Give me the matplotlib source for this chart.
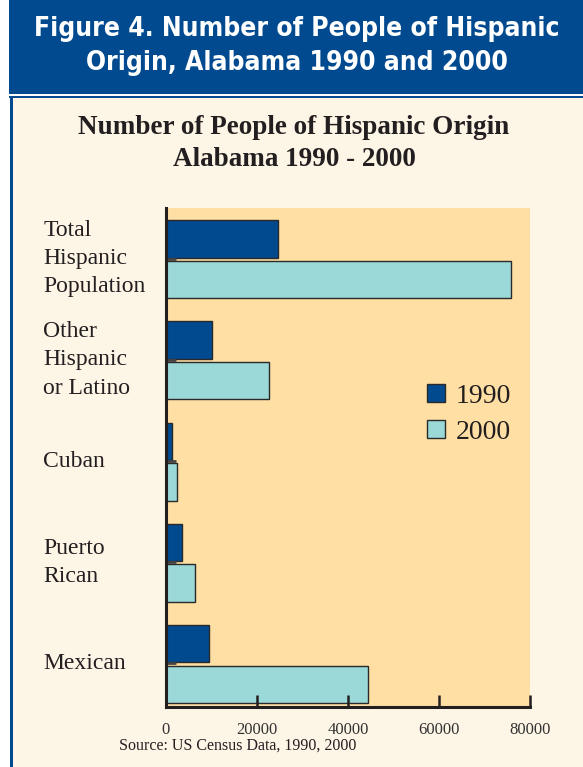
import matplotlib.pyplot as plt
from matplotlib.patches import Rectangle

categories = ["Total\nHispanic\nPopulation", "Other\nHispanic\nor Latino", "Cuban", "Puerto\nRican", "Mexican"]
vals_1990 = [24600, 10100, 1300, 3600, 9500]
vals_2000 = [75800, 22600, 2400, 6300, 44500]
xticks = [0, 20000, 40000, 60000, 80000]

blue = "#014a8f"
teal = "#9bd8d8"
cream = "#fdf5e6"
peach = "#ffdfa3"
serif = ["Liberation Serif", "DejaVu Serif"]

W, H = 583, 767
fig = plt.figure(figsize=(W / 100, H / 100), dpi=100, facecolor="white")

# header band and page frame, kept behind the axes
def band(x, y, w, h, c):
    fig.patches.append(Rectangle((x / W, 1 - (y + h) / H), w / W, h / H,
                                 transform=fig.transFigure, facecolor=c,
                                 edgecolor="none", zorder=-5))

band(13, 98, 570, 669, cream)
band(9, 0, 574, 94, blue)
band(9, 95.5, 574, 2.5, blue)
band(10, 96, 3, 671, blue)

hfont = dict(color="white", fontsize=19, fontweight="bold", family="DejaVu Sans",
             fontstretch="condensed", ha="center", va="center")
fig.text(297 / W, 1 - 29 / H, "Figure 4. Number of People of Hispanic", **hfont)
fig.text(297 / W, 1 - 63 / H, "Origin, Alabama 1990 and 2000", **hfont)

fig.text(294 / W, 1 - 128 / H, "Number of People of Hispanic Origin", color="#231f20",
         fontsize=19.5, fontweight="bold", family=serif, ha="center", va="center")
fig.text(294 / W, 1 - 159 / H, "Alabama 1990 - 2000", color="#231f20",
         fontsize=19.5, fontweight="bold", family=serif, ha="center", va="center")

ax = fig.add_axes([166 / W, (H - 707) / H, 364 / W, 499 / H])
ax.set_facecolor(peach)

ypos = list(range(len(categories)))
h = 0.37
ax.barh([y - 0.01 - h / 2 for y in ypos], vals_1990, height=h, color=blue,
        edgecolor="#2a2a2a", linewidth=1, label="1990")
ax.barh([y + 0.02 + h / 2 for y in ypos], vals_2000, height=h, color=teal,
        edgecolor="#2a2a2a", linewidth=1, label="2000")

ax.set_xlim(0, 80000)
ax.set_ylim(4.43, -0.5)
ax.set_xticks(xticks)
ax.set_xticklabels([str(v) for v in xticks], family=serif, fontsize=12, color="#333333")
ax.set_yticks(ypos)
ax.set_yticklabels([])
for y, lab in zip(ypos, categories):
    ax.text(-0.337, y, lab, transform=ax.get_yaxis_transform(), ha="left", va="center",
            family=serif, fontsize=17, color="#231f20", linespacing=1.45)

for s in ["top", "right"]:
    ax.spines[s].set_visible(False)
for s in ["left", "bottom"]:
    ax.spines[s].set_linewidth(2.2)
    ax.spines[s].set_color("#231f20")
ax.tick_params(axis="x", direction="in", length=9, width=1.8, color="#231f20", pad=11)
ax.tick_params(axis="y", direction="in", length=7, width=2, color="#444444")

leg = ax.legend(loc="upper left", bbox_to_anchor=(0.648, 0.698), frameon=False,
                prop={"family": serif, "size": 20}, handlelength=0.65, handleheight=0.65,
                handletextpad=0.4, labelspacing=0.4)
for t in leg.get_texts():
    t.set_color("#231f20")

fig.text(238 / W, 1 - 746 / H, "Source: US Census Data, 1990, 2000", family=serif,
         fontsize=11.5, color="#231f20", ha="center", va="center")

fig.savefig("out.png", dpi=100)
